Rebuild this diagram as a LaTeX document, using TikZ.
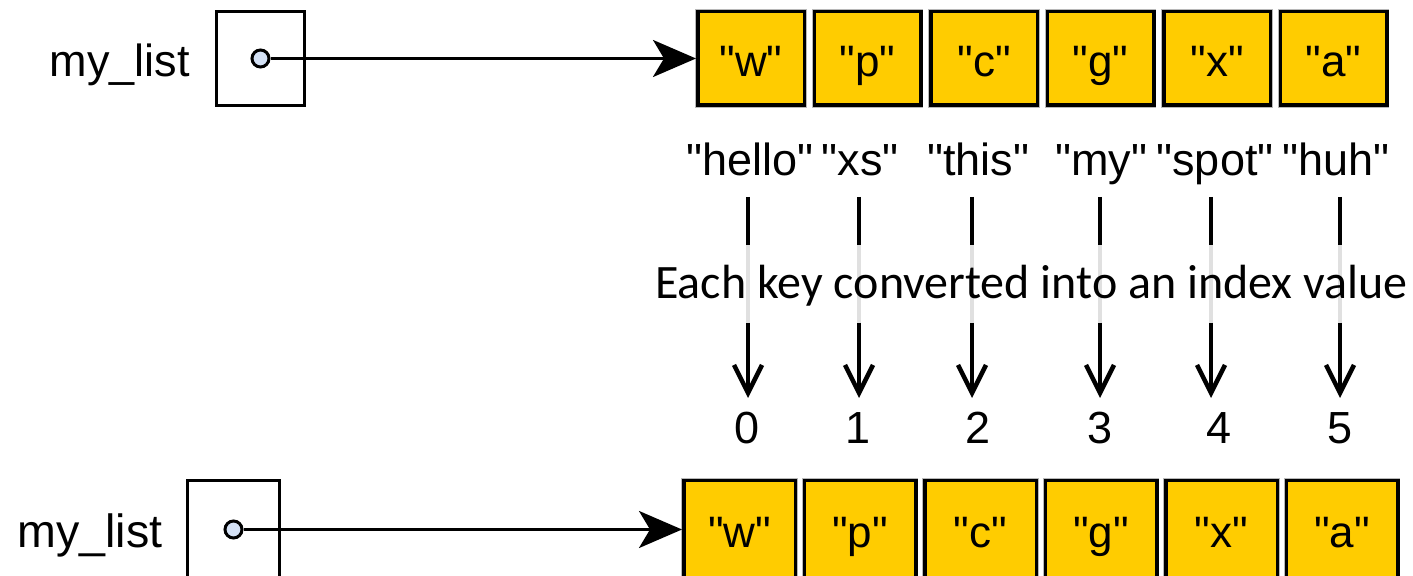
\documentclass[tikz,border=0pt]{standalone}
\usepackage{fontspec}
\setmainfont{Liberation Sans}[Ligatures=TeXOff]
\newfontfamily\notefont{Carlito}
\usetikzlibrary{arrows.meta}
\definecolor{cellfill}{HTML}{FFCC00}
\definecolor{dotfill}{HTML}{D4E1F5}
\definecolor{faint}{HTML}{E0E0E0}
\definecolor{rim}{HTML}{B8B8B8}

\begin{document}
\begin{tikzpicture}[x=0.5pt,y=-0.5pt,
  txt/.style={inner sep=0pt, anchor=base, font=\fontsize{22.5}{27}\selectfont},
  cell/.style={draw, line width=1.75pt, fill=cellfill, inner sep=0pt,
    preaction={draw=rim, line width=2.6pt},
    minimum width=53.25pt, minimum height=46.75pt,
    text height=18.5pt, text depth=0pt, font=\fontsize{22}{26}\selectfont},
  bigcell/.style={cell, minimum width=55.75pt, minimum height=48.75pt},
  ptrbox/.style={draw, line width=1.5pt, inner sep=0pt},
  ptrdot/.style={circle, draw, line width=1.5pt, fill=dotfill, inner sep=0pt, minimum size=8.5pt},
  ptr/.style={line width=1.5pt, -{Stealth[length=21.5pt, width=18.5pt, inset=5.5pt]}},
  keyline/.style={line width=2.25pt},
  fadeline/.style={line width=2.25pt, draw=faint},
  keyarrow/.style={line width=2.25pt, -{Straight Barb[length=14pt, width=14pt]}}]
\useasboundingbox (0,0) rectangle (1413,576);
\clip (0,0) rectangle (1413,576);

% ---- upper list: name, reference box and array ----
\node[txt] (name1) at (120,77) {my\_list};
\node[ptrbox, minimum width=44pt, minimum height=47pt] (box1) at (260.5,58.5) {};
\node[ptrdot] (dot1) at (box1.center) {};
\foreach \v [count=\i from 0] in {w,p,c,g,x,a}
  \node[cell] (top\i) at ({751+116.5*\i},58.5) {"\v"};
\draw[ptr] (dot1) -- (top0.west);

% ---- keys, hashed into indices ----
\foreach \k/\kx/\lx/\nx [count=\i from 0] in
  {hello/750/748/747, xs/860/859/858, this/978/972/978,
   my/1101/1100/1100, spot/1215/1211/1219, huh/1336/1340/1340} {
  \node[txt] (key\i) at (\kx,176) {"\k"};
  \coordinate (s\i) at (\lx,197);
  \coordinate (m\i) at (\lx,245);
  \coordinate (n\i) at (\lx,323);
  \coordinate (t\i) at (\lx,398);
  \node[txt] (idx\i) at (\nx,444) {\i};
  \draw[keyline] (s\i) -- (m\i);
  \draw[fadeline] (m\i) -- (n\i);
  \draw[keyarrow] (n\i) -- (t\i);
}
\node[inner sep=0pt, anchor=base, font=\notefont\fontsize{24}{29}\selectfont]
  (note) at (1031.5,299) {Each key converted into an index value};

% ---- lower list: name, reference box and array ----
\node[txt, font=\fontsize{23.3}{28}\selectfont] (name2) at (90,548) {my\_list};
\node[ptrbox, minimum width=46pt, minimum height=49pt] (box2) at (233.5,529.5) {};
\node[ptrdot] (dot2) at (box2.center) {};
\foreach \v [count=\i from 0] in {w,p,c,g,x,a}
  \node[bigcell] (bot\i) at ({739.5+120.5*\i},529.5) {"\v"};
\draw[ptr] (dot2) -- (bot0.west);
\end{tikzpicture}
\end{document}
